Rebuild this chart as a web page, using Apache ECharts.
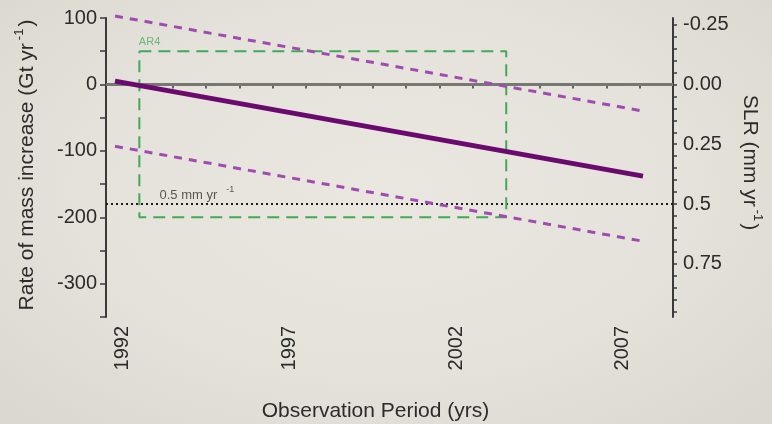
<!DOCTYPE html>
<html>
<head>
<meta charset="utf-8">
<script src="https://cdn.jsdelivr.net/npm/echarts@6/dist/echarts.min.js"></script>
<style>
  html, body { margin:0; padding:0; width:772px; height:424px; overflow:hidden;
    background: radial-gradient(ellipse at 50% 45%, #e9e7e0 0%, #e4e2da 55%, #d9d7ce 100%); }
  #chart { width:772px; height:424px; }
</style>
</head>
<body>
<div id="chart"></div>
<script>
// ---------- data ----------
const xMin = 1992;
const xMax = 2009;
const xTickLabelPositions = [1992.5, 1997.5, 2002.5, 2007.5];
const xTickLabels = ['1992', '1997', '2002', '2007'];

const rateMin = -350;
const rateMax = 100;
const rateTickLabelValues = [100, 0, -100, -200, -300];
const rateTickLabels = ['100', '0', '-100', '-200', '-300'];

const gtPerMm = 360;   // 0.5 mm/yr SLR ~ -180 Gt/yr
const slrTickLabelValues = [-0.25, 0, 0.25, 0.5, 0.75];
const slrTickLabels = ['-0.25', '0.00', '0.25', '0.5', '0.75'];
const slrMinorTicks = [-0.25, -0.2, -0.15, -0.1, -0.05, 0, 0.05, 0.1, 0.15, 0.2, 0.25, 0.3, 0.35, 0.4, 0.45, 0.5, 0.55, 0.6, 0.65, 0.7, 0.75, 0.8, 0.85, 0.9, 0.95];

const trendYears = [1992.27, 2008.1];
const trendRate = [5, -138];
const upperRate = [103, -40];
const lowerRate = [-93, -236];

const ar4Years = [1993, 2004];
const ar4Rate = [50, -200];

const slrReference = 0.5;
const slrLabelYear = 1993.62;

// ---------- chart ----------
const FONT = '"Liberation Sans", Arial, sans-serif';
const AX = '#3a3a3a';
const TXT = '#2b2b2b';

function pair(xs, ys) { return xs.map((x, i) => [x, ys[i]]); }
function lookup(vals, labels, v) {
  for (let i = 0; i < vals.length; i++) if (Math.abs(vals[i] - v) < 1e-6) return labels[i];
  return '';
}

const boxData = [
  [ar4Years[0], ar4Rate[0]], [ar4Years[1], ar4Rate[0]],
  [ar4Years[1], ar4Rate[1]], [ar4Years[0], ar4Rate[1]],
  [ar4Years[0], ar4Rate[0]]
];

const chart = echarts.init(document.getElementById('chart'), null, { renderer: 'canvas' });
chart.setOption({
  animation: false,
  backgroundColor: 'transparent',
  textStyle: { fontFamily: FONT },
  grid: { left: 106, top: 18, width: 567, height: 299, containLabel: false, outerBoundsMode: 'none' },
  xAxis: {
    type: 'value', min: xMin, max: xMax, interval: 1,
    axisLine: { show: true, lineStyle: { color: AX, width: 2 } },
    axisTick: { show: true, length: 4, lineStyle: { color: AX, width: 1.5 } },
    axisLabel: {
      customValues: xTickLabelPositions, rotate: 90, margin: 9,
      fontSize: 20, color: TXT, fontFamily: FONT,
      formatter: v => lookup(xTickLabelPositions, xTickLabels, v)
    },
    splitLine: { show: false },
    name: 'Observation Period (yrs)', nameLocation: 'middle', nameGap: 84,
    nameTextStyle: { fontSize: 21, color: TXT, fontFamily: FONT, padding: [0, 28, 0, 0] }
  },
  yAxis: [
    {
      type: 'value', position: 'left', min: rateMin, max: rateMax, interval: 50,
      axisLine: { show: true, lineStyle: { color: AX, width: 2 } },
      axisTick: { show: true, length: 6, lineStyle: { color: AX, width: 1.5 } },
      axisLabel: {
        customValues: rateTickLabelValues, margin: 9, fontSize: 20, color: TXT, fontFamily: FONT,
        formatter: v => lookup(rateTickLabelValues, rateTickLabels, v)
      },
      splitLine: { show: false },
      name: 'Rate of mass increase (Gt yr{sup|-1})', nameLocation: 'middle', nameGap: 64, nameRotate: 90,
      nameTextStyle: { fontSize: 21, color: TXT, fontFamily: FONT, padding: [0, 0, 0, 5],
        rich: { sup: { fontSize: 13, color: TXT, fontFamily: FONT, padding: [0, 2, 16, 3] } } }
    },
    {
      type: 'value', position: 'right', inverse: true,
      min: -rateMax / gtPerMm, max: -rateMin / gtPerMm,
      axisLine: { show: true, onZero: false, lineStyle: { color: AX, width: 2 } },
      axisTick: { show: true, customValues: slrMinorTicks, length: 4, lineStyle: { color: AX, width: 1.5 } },
      axisLabel: {
        customValues: slrTickLabelValues, margin: 10, fontSize: 20, color: TXT, fontFamily: FONT,
        formatter: v => lookup(slrTickLabelValues, slrTickLabels, v)
      },
      splitLine: { show: false },
      name: 'SLR (mm yr{sup|-1})', nameLocation: 'middle', nameGap: 62, nameRotate: -90,
      nameTextStyle: { fontSize: 21, color: TXT, fontFamily: FONT, padding: [0, 10, 0, 0],
        rich: { sup: { fontSize: 13, color: TXT, fontFamily: FONT, padding: [0, 2, 16, 3] } } }
    }
  ],
  series: [
    { // zero line
      type: 'line', yAxisIndex: 0, data: [[xMin, 0], [xMax, 0]], symbol: 'none', silent: true,
      lineStyle: { color: '#777774', width: 3 }, z: 2
    },
    { // 0.5 mm/yr dotted reference
      type: 'line', yAxisIndex: 1, data: [[xMin, slrReference], [xMax, slrReference]], symbol: 'none', silent: true,
      lineStyle: { color: '#1e1e1e', width: 2, type: [2, 3] }, z: 2
    },
    { // AR4 box
      type: 'line', yAxisIndex: 0, data: boxData, symbol: 'none', silent: true,
      lineStyle: { color: '#43a85a', width: 2, type: [12, 7] }, z: 3
    },
    { // upper bound
      type: 'line', yAxisIndex: 0, data: pair(trendYears, upperRate), symbol: 'none', clip: false,
      lineStyle: { color: '#a04bb0', width: 3, type: [8, 7] }, z: 4
    },
    { // lower bound
      type: 'line', yAxisIndex: 0, data: pair(trendYears, lowerRate), symbol: 'none', clip: false,
      lineStyle: { color: '#a04bb0', width: 3, type: [8, 7] }, z: 4
    },
    { // trend
      type: 'line', yAxisIndex: 0, data: pair(trendYears, trendRate), symbol: 'none', clip: false,
      lineStyle: { color: '#6a0a6e', width: 5 }, z: 5
    },
    { // AR4 label
      type: 'scatter', yAxisIndex: 0, data: [[ar4Years[0], ar4Rate[0]]], symbolSize: 1,
      itemStyle: { color: 'transparent' }, silent: true,
      label: { show: true, formatter: 'AR4', position: [0, -9], align: 'left', verticalAlign: 'middle',
        fontSize: 11, color: '#4cae5c', fontFamily: FONT }
    },
    { // 0.5 mm/yr label
      type: 'scatter', yAxisIndex: 1, data: [[slrLabelYear, slrReference]], symbolSize: 1,
      itemStyle: { color: 'transparent' }, silent: true,
      label: { show: true, formatter: '0.5 mm yr{sup|-1}', position: [0, -8], align: 'left', verticalAlign: 'middle',
        fontSize: 13, color: '#333', fontFamily: FONT,
        rich: { sup: { fontSize: 9, color: '#333', fontFamily: FONT, padding: [0, 0, 12, 9] } } }
    }
  ]
});
</script>
</body>
</html>
